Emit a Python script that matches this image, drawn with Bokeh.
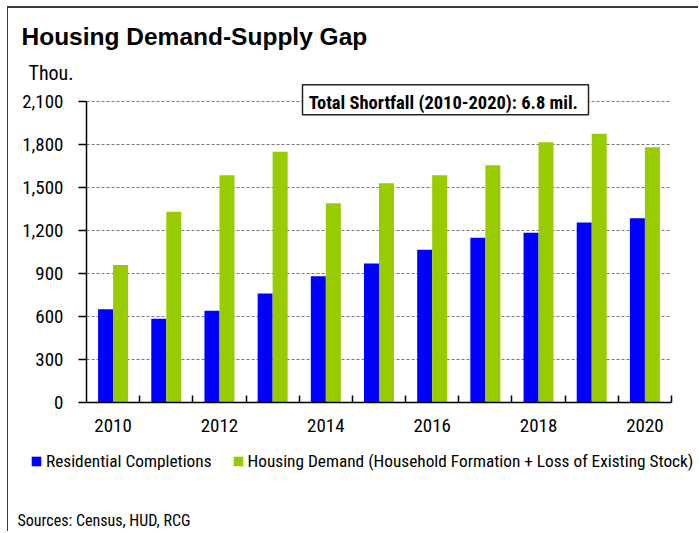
from bokeh.plotting import figure
from bokeh.models import (Range1d, FixedTicker, NumeralTickFormatter, Label, BoxAnnotation,
                          Legend, LegendItem, ColumnDataSource)
from bokeh.transform import dodge
from bokeh.embed import file_html
from bokeh.resources import INLINE

# ---- data ----
years = list(range(2010, 2021))
completions = [650, 585, 640, 760, 880, 970, 1065, 1150, 1185, 1255, 1285]
demand = [960, 1330, 1585, 1750, 1390, 1530, 1585, 1655, 1815, 1875, 1780]
y_ticks = [0, 300, 600, 900, 1200, 1500, 1800, 2100]
x_label_years = [2010, 2012, 2014, 2016, 2018, 2020]
series_names = ["Residential Completions",
                "Housing Demand (Household Formation + Loss of Existing Stock)"]
colors = ["#0000FF", "#99CC00"]
title_text = "Housing Demand-Supply Gap"
unit_text = "Thou."
note_text = "Total Shortfall (2010-2020):  6.8 mil."
source_text = "Sources: Census, HUD, RCG"

FONT = "Roboto Condensed"
TITLE_FONT = "Liberation Sans"

# ---- layout (window pixels) ----
W, H = 691, 525            # canvas size; canvas starts at window (8, 8)
OX, OY = 8, 8
AX_L, AX_R = 86, 671       # x positions of 2009.5 and 2020.5
AX_B, AX_T = 402, 101      # y positions of 0 and 2100
X0, X1 = years[0] - 0.5, years[-1] + 0.5
Y0, Y1 = y_ticks[0], y_ticks[-1]
kx = (AX_R - AX_L) / (X1 - X0)
ky = (AX_B - AX_T) / (Y1 - Y0)


def xd(px):
    return X0 + (px - AX_L) / kx


def yd(py):
    return Y0 + (AX_B - py) / ky


p = figure(width=W, height=H,
           x_range=Range1d(xd(OX), xd(OX + W)), y_range=Range1d(yd(OY + H), yd(OY)),
           output_backend="svg", toolbar_location=None,
           min_border=0, min_border_left=0, min_border_right=0,
           min_border_top=0, min_border_bottom=0)
p.outline_line_color = None
p.background_fill_color = "white"
p.border_fill_color = "white"
p.styles = {"margin-left": "7px", "margin-top": "6px",
            "border-left": "1px solid #3a3a3a", "border-top": "2px solid #3a3a3a"}

src = ColumnDataSource(dict(year=years, completions=completions, demand=demand))
bw = 0.282
r1 = p.vbar(x=dodge("year", -bw / 2, range=p.x_range), top="completions", width=bw,
            source=src, fill_color=colors[0], line_color=None)
r2 = p.vbar(x=dodge("year", bw / 2, range=p.x_range), top="demand", width=bw,
            source=src, fill_color=colors[1], line_color=None)

# dashed horizontal grid limited to the plot area
p.segment(x0=[X0] * len(y_ticks[1:]), x1=[X1] * len(y_ticks[1:]),
          y0=y_ticks[1:], y1=y_ticks[1:], line_color="#7a7a7a",
          line_dash="3 2", line_width=1, level="underlay")
p.xgrid.grid_line_color = None
p.ygrid.grid_line_color = None

# axes
xa = p.xaxis[0]
xa.fixed_location = Y0
xa.bounds = (X0, X1)
xa.ticker = FixedTicker(ticks=x_label_years, minor_ticks=[y + 0.5 for y in years])
xa.major_tick_line_color = None
xa.minor_tick_in = 7
xa.minor_tick_out = 0
xa.minor_tick_line_color = "black"
xa.minor_tick_line_width = 1.5
xa.axis_line_color = "black"
xa.axis_line_width = 1.5
xa.major_label_text_font = FONT
xa.major_label_text_font_size = "19px"
xa.major_label_text_color = "black"
xa.major_label_standoff = 10

ya = p.yaxis[0]
ya.fixed_location = X0
ya.bounds = (Y0, Y1)
ya.ticker = FixedTicker(ticks=y_ticks)
ya.formatter = NumeralTickFormatter(format="0,0")
ya.major_tick_in = 0
ya.major_tick_out = 8
ya.major_tick_line_color = "black"
ya.major_tick_line_width = 1.5
ya.minor_tick_line_color = None
ya.axis_line_color = "black"
ya.axis_line_width = 1.5
ya.major_label_text_font = FONT
ya.major_label_text_font_size = "19px"
ya.major_label_text_color = "black"
ya.major_label_standoff = 15


def label(px, py, text, size, bold=False, align="left", font=FONT, **kw):
    return Label(x=xd(px), y=yd(py), text=text, text_font=font,
                 text_font_style="bold" if bold else "normal",
                 text_font_size=size, text_color="black", text_align=align,
                 text_baseline="alphabetic", text_line_height=1.0, **kw)


p.add_layout(label(21, 36, title_text, "24.5px", bold=True, font=TITLE_FONT))
p.add_layout(label(28, 72, unit_text, "20px"))

# framed note
p.add_layout(BoxAnnotation(left=xd(302), right=xd(588), top=yd(84.3), bottom=yd(114.3),
                           fill_color="white", fill_alpha=1.0,
                           line_color="#222222", line_width=1.5, line_alpha=1.0))
p.add_layout(label(445, 102.5, note_text, "18.5px", bold=True, align="center"))

p.add_layout(label(17, 520, source_text, "16px"))

legend = Legend(items=[LegendItem(label=series_names[0], renderers=[r1]),
                       LegendItem(label=series_names[1], renderers=[r2])],
                location=(22, 62), orientation="horizontal",
                glyph_width=12, glyph_height=12, label_standoff=4, spacing=20,
                padding=0, margin=0, border_line_color=None, background_fill_alpha=0,
                label_text_font=FONT, label_text_font_size="17.3px",
                label_text_color="black")
p.add_layout(legend)

open("out.html", "w").write(file_html(p, INLINE))
